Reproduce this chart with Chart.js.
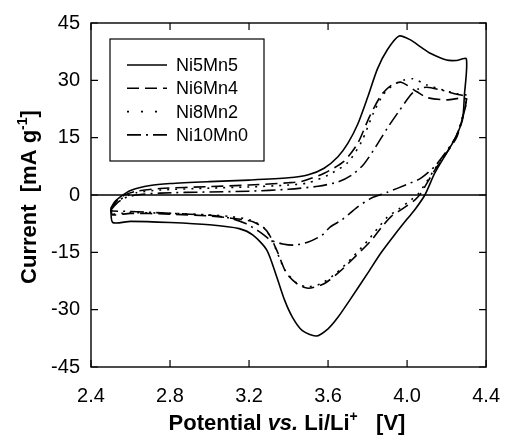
<!DOCTYPE html>
<html>
<head>
<meta charset="utf-8">
<script src="https://cdn.jsdelivr.net/npm/chart.js@4.4.0/dist/chart.umd.min.js"></script>
<style>
  html, body { margin: 0; padding: 0; background: #fff; }
  #wrap { width: 517px; height: 435px; }
</style>
</head>
<body>
<div id="wrap"><canvas id="cvChart" width="517" height="435"></canvas></div>
<script>
// Cyclic voltammograms, potential [V] vs current [mA/g]
const seriesNames = ['Ni5Mn5', 'Ni6Mn4', 'Ni8Mn2', 'Ni10Mn0'];

const ni5mn5V = [2.50, 2.52, 2.55, 2.60, 2.70, 2.80, 3.00, 3.20, 3.40, 3.50, 3.58, 3.65, 3.70, 3.75, 3.80, 3.85, 3.90, 3.96, 4.02, 4.07,
                 4.12, 4.20, 4.25, 4.30, 4.29, 4.28, 4.24, 4.20, 4.14, 4.09, 4.04, 4.00, 3.94, 3.87, 3.80, 3.71, 3.65, 3.60, 3.54, 3.47,
                 3.42, 3.38, 3.34, 3.29, 3.22, 3.15, 3.00, 2.80, 2.60, 2.51, 2.50];
const ni5mn5I = [-3.5, -1.8, -0.4, 1.2, 2.5, 3.0, 3.5, 3.9, 4.5, 5.3, 7.0, 10.0, 13.5, 18.5, 25.5, 33.0, 38.0, 41.6, 40.5, 38.7,
                 37.0, 35.3, 35.2, 35.6, 26.0, 19.6, 14.5, 11.0, 5.7, 0.0, -3.8, -6.3, -10.2, -15.0, -20.5, -27.5, -32.0, -35.0, -36.9, -35.5,
                 -32.0, -27.5, -21.4, -14.4, -10.5, -8.8, -7.8, -7.2, -6.9, -7.2, -3.5];

const ni6mn4V = [2.50, 2.53, 2.57, 2.63, 2.75, 3.00, 3.20, 3.40, 3.47, 3.58, 3.68, 3.75, 3.81, 3.87, 3.92, 3.97, 4.05, 4.10, 4.20, 4.28,
                 4.30, 4.28, 4.25, 4.20, 4.14, 4.07, 4.04, 3.98, 3.92, 3.87, 3.82, 3.74, 3.66, 3.58, 3.50, 3.45, 3.39, 3.34, 3.29, 3.22,
                 3.10, 3.00, 2.80, 2.60, 2.51, 2.50];
const ni6mn4I = [-3.8, -1.6, 0.0, 1.0, 1.7, 2.2, 2.6, 3.2, 3.6, 5.7, 8.8, 13.5, 20.5, 26.2, 28.7, 29.5, 27.0, 25.5, 24.9, 25.4,
                 25.0, 20.0, 15.0, 11.0, 6.5, 0.5, -1.3, -3.5, -5.6, -8.5, -11.8, -16.0, -20.0, -23.2, -24.4, -23.5, -20.5, -14.4, -9.4, -7.0,
                 -6.0, -5.5, -5.0, -4.8, -5.2, -3.8];

const ni8mn2V = [2.50, 2.53, 2.57, 2.63, 2.75, 3.00, 3.20, 3.40, 3.50, 3.60, 3.70, 3.77, 3.83, 3.88, 3.93, 3.98, 4.03, 4.10, 4.18, 4.25,
                 4.30, 4.28, 4.25, 4.20, 4.14, 4.06, 4.02, 3.96, 3.90, 3.85, 3.80, 3.72, 3.64, 3.56, 3.49, 3.44, 3.38, 3.33, 3.28, 3.21,
                 3.10, 3.00, 2.80, 2.60, 2.51, 2.50];
const ni8mn2I = [-4.3, -2.0, -0.5, 0.6, 1.3, 1.8, 2.1, 2.6, 3.2, 5.2, 8.5, 14.0, 21.5, 26.3, 28.8, 30.0, 30.4, 28.8, 27.5, 26.5,
                 26.0, 20.5, 15.5, 11.2, 6.8, 0.5, -1.3, -3.6, -5.8, -8.8, -12.0, -16.5, -20.5, -23.3, -24.0, -23.0, -19.5, -13.5, -8.8, -6.6,
                 -5.6, -5.2, -4.8, -4.6, -5.0, -4.3];

const ni10mn0V = [2.50, 2.53, 2.57, 2.63, 2.75, 3.00, 3.20, 3.40, 3.55, 3.65, 3.72, 3.78, 3.84, 3.90, 3.96, 4.02, 4.06, 4.10, 4.17, 4.24,
                  4.30, 4.28, 4.25, 4.20, 4.14, 4.07, 4.00, 3.90, 3.82, 3.75, 3.67, 3.61, 3.57, 3.50, 3.43, 3.37, 3.31, 3.25, 3.18, 3.10,
                  3.00, 2.80, 2.60, 2.51, 2.50];
const ni10mn0I = [-4.0, -2.2, -0.8, 0.0, 0.5, 0.8, 1.0, 1.5, 2.3, 3.4, 5.2, 8.0, 12.5, 17.5, 22.0, 26.3, 27.8, 28.2, 27.5, 26.5,
                  25.5, 20.0, 15.5, 11.5, 7.5, 4.4, 2.8, 0.7, -0.8, -3.1, -6.5, -8.4, -10.5, -12.3, -13.1, -12.8, -11.8, -9.5, -7.4, -6.0,
                  -5.3, -4.8, -4.3, -4.2, -4.0];

const xTicks = [2.4, 2.8, 3.2, 3.6, 4.0, 4.4];
const yTicks = [-45, -30, -15, 0, 15, 30, 45];

const FONT = '"Liberation Sans", Arial, sans-serif';

function toPoints(vs, is) {
    return vs.map((v, i) => ({ x: v, y: is[i] }));
}

// Rahmen, Ticks nach innen, Nulllinie, Legende, Achsentitel
const decorPlugin = {
    id: 'decor',
    afterDatasetsDraw(chart) {
        const { ctx, chartArea: a, scales: { x, y } } = chart;
        ctx.save();
        ctx.strokeStyle = '#000';
        ctx.lineWidth = 1.4;
        ctx.setLineDash([]);
        ctx.strokeRect(a.left, a.top, a.right - a.left, a.bottom - a.top);

        // zero line
        const y0 = y.getPixelForValue(0);
        ctx.beginPath();
        ctx.moveTo(a.left, y0);
        ctx.lineTo(a.right, y0);
        ctx.stroke();

        // inward ticks
        const len = 7;
        ctx.lineWidth = 1.2;
        ctx.beginPath();
        xTicks.forEach(v => {
            const px = x.getPixelForValue(v);
            ctx.moveTo(px, a.bottom); ctx.lineTo(px, a.bottom - len);
            ctx.moveTo(px, a.top); ctx.lineTo(px, a.top + len);
        });
        yTicks.forEach(v => {
            const py = y.getPixelForValue(v);
            ctx.moveTo(a.left, py); ctx.lineTo(a.left + len, py);
            ctx.moveTo(a.right, py); ctx.lineTo(a.right - len, py);
        });
        ctx.stroke();
        ctx.restore();
    },
    afterDraw(chart) {
        const ctx = chart.ctx;
        ctx.save();

        // legend box
        ctx.fillStyle = '#fff';
        ctx.fillRect(110, 39, 154, 122);
        ctx.strokeStyle = '#000';
        ctx.lineWidth = 1.2;
        ctx.strokeRect(110, 39, 154, 122);
        chart.data.datasets.forEach((ds, i) => {
            const cy = 65 + i * 23.3;
            ctx.beginPath();
            ctx.setLineDash(ds.legendDash || ds.borderDash || []);
            ctx.lineWidth = ds.borderWidth;
            ctx.moveTo(127, cy);
            ctx.lineTo(167, cy);
            ctx.stroke();
            ctx.setLineDash([]);
            ctx.fillStyle = '#000';
            ctx.font = '18px ' + FONT;
            ctx.textBaseline = 'middle';
            ctx.textAlign = 'left';
            ctx.fillText(ds.label, 176, cy + 1);
        });

        // axis titles
        const bold = 'bold 22px ' + FONT;
        const sup = 'bold 14px ' + FONT;
        drawRuns(ctx, [
            { t: 'Potential ', f: bold },
            { t: 'vs.', f: 'italic ' + bold },
            { t: ' Li/Li', f: bold },
            { t: '+', f: sup, dy: -9 },
            { t: '   [V]', f: bold }
        ], 287, 430);

        ctx.save();
        ctx.translate(36, 197);
        ctx.rotate(-Math.PI / 2);
        drawRuns(ctx, [
            { t: 'Current  [mA g', f: bold },
            { t: '-1', f: sup, dy: -9 },
            { t: ']', f: bold }
        ], 0, 0);
        ctx.restore();

        ctx.restore();
    }
};

// tegner tekststykker centreret om cx
function drawRuns(ctx, runs, cx, baseY) {
    let total = 0;
    runs.forEach(r => { ctx.font = r.f; r.w = ctx.measureText(r.t).width; total += r.w; });
    let px = cx - total / 2;
    ctx.fillStyle = '#000';
    ctx.textAlign = 'left';
    ctx.textBaseline = 'alphabetic';
    runs.forEach(r => {
        ctx.font = r.f;
        ctx.fillText(r.t, px, baseY + (r.dy || 0));
        px += r.w;
    });
}

const lineBase = {
    borderColor: '#000',
    backgroundColor: '#000',
    borderWidth: 1.6,
    pointRadius: 0,
    showLine: true,
    fill: false,
    tension: 0.25
};

new Chart(document.getElementById('cvChart'), {
    type: 'scatter',
    data: {
        datasets: [
            Object.assign({}, lineBase, { label: seriesNames[0], data: toPoints(ni5mn5V, ni5mn5I) }),
            Object.assign({}, lineBase, { label: seriesNames[1], data: toPoints(ni6mn4V, ni6mn4I), borderDash: [12, 6] }),
            Object.assign({}, lineBase, { label: seriesNames[2], data: toPoints(ni8mn2V, ni8mn2I), borderDash: [2, 6], legendDash: [2, 12] }),
            Object.assign({}, lineBase, { label: seriesNames[3], data: toPoints(ni10mn0V, ni10mn0I), borderDash: [14, 5, 2, 5] })
        ]
    },
    options: {
        responsive: false,
        animation: false,
        devicePixelRatio: 1,
        layout: { padding: { top: 23, right: 16, left: 0, bottom: 0 } },
        plugins: {
            legend: { display: false },
            tooltip: { enabled: false }
        },
        scales: {
            x: {
                type: 'linear',
                min: 2.4,
                max: 4.4,
                afterBuildTicks: s => { s.ticks = xTicks.map(v => ({ value: v })); },
                afterFit: s => { s.height = 68; },
                grid: { display: false, drawTicks: false },
                border: { display: false },
                ticks: {
                    color: '#000',
                    font: { family: FONT, size: 20 },
                    padding: 17,
                    maxRotation: 0,
                    autoSkip: false,
                    callback: v => v.toFixed(1)
                }
            },
            y: {
                type: 'linear',
                min: -45,
                max: 45,
                afterBuildTicks: s => { s.ticks = yTicks.map(v => ({ value: v })); },
                afterFit: s => { s.width = 91; },
                grid: { display: false, drawTicks: false },
                border: { display: false },
                ticks: {
                    color: '#000',
                    font: { family: FONT, size: 20 },
                    padding: 11,
                    autoSkip: false,
                    callback: v => String(v)
                }
            }
        }
    },
    plugins: [decorPlugin]
});
</script>
</body>
</html>
